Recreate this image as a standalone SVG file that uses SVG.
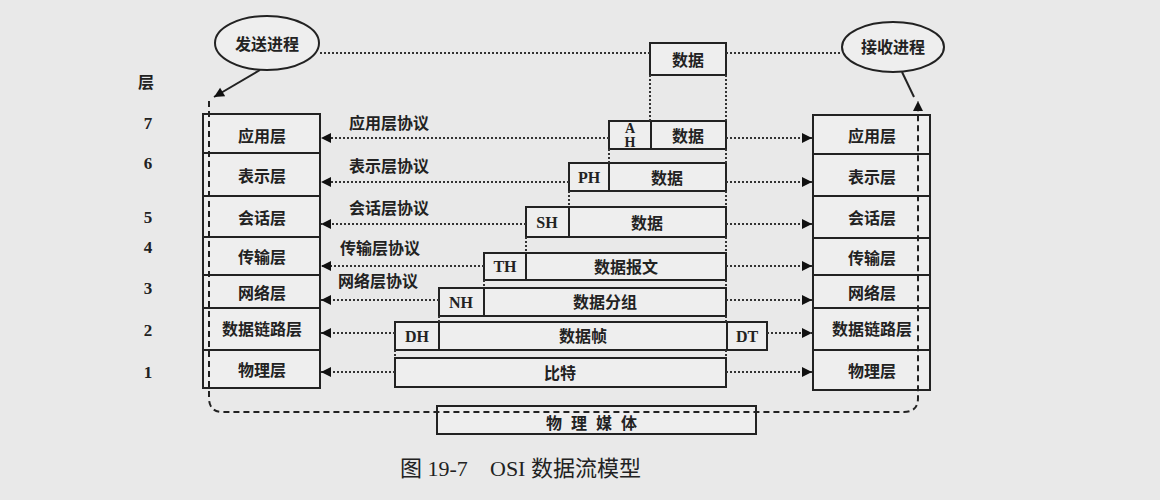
<svg xmlns="http://www.w3.org/2000/svg" width="1160" height="500" viewBox="0 0 1160 500">
<style>
.bg{fill:#e9e9e9}
.box{fill:#eeeeee;stroke:#222;stroke-width:2}
.cn{font-family:"Noto Sans CJK SC","Noto Sans",sans-serif;font-size:16px;font-weight:700;fill:#222;text-anchor:middle;dominant-baseline:central}
.hd{font-family:"Liberation Serif",serif;font-size:16px;font-weight:700;fill:#222;text-anchor:middle;dominant-baseline:central}
.num{font-family:"Liberation Serif",serif;font-size:17px;font-weight:700;fill:#222;text-anchor:middle;dominant-baseline:central}
.dot{stroke:#333;stroke-width:2;stroke-dasharray:2,2;fill:none}
.dash{stroke:#222;stroke-width:2;stroke-dasharray:6,4;fill:none}
.solid{stroke:#222;stroke-width:2;fill:none}
.cap{font-family:"Liberation Serif","Noto Sans CJK SC",serif;font-size:22px;fill:#222;dominant-baseline:central}
</style>
<defs>
<marker id="ah" viewBox="0 0 10 10" refX="10" refY="5" markerWidth="12" markerHeight="10" markerUnits="userSpaceOnUse" orient="auto">
<path d="M0,0 L10,5 L0,10 z" fill="#111"/>
</marker>
</defs>
<rect class="bg" x="0" y="0" width="1160" height="500"/>

<g id="layer-numbers">
<text class="cn" x="146" y="81">层</text>
<text class="num" x="148" y="123">7</text>
<text class="num" x="148" y="163">6</text>
<text class="num" x="148" y="217">5</text>
<text class="num" x="148" y="247">4</text>
<text class="num" x="148" y="288">3</text>
<text class="num" x="148" y="330">2</text>
<text class="num" x="148" y="372">1</text>
</g>

<g id="sender">
<ellipse class="box" cx="267" cy="43" rx="52" ry="27"/>
<text class="cn" x="267" y="43">发送进程</text>
</g>
<g id="receiver">
<ellipse class="box" cx="893" cy="47" rx="51" ry="25"/>
<text class="cn" x="893" y="46">接收进程</text>
</g>

<g id="left-stack">
<rect class="box" x="203" y="114" width="117" height="39"/>
<rect class="box" x="203" y="153" width="117" height="43"/>
<rect class="box" x="203" y="196" width="117" height="41"/>
<rect class="box" x="203" y="237" width="117" height="38"/>
<rect class="box" x="203" y="275" width="117" height="33"/>
<rect class="box" x="203" y="308" width="117" height="42"/>
<rect class="box" x="203" y="350" width="117" height="38"/>
<text class="cn" x="262" y="135">应用层</text>
<text class="cn" x="262" y="175">表示层</text>
<text class="cn" x="262" y="217">会话层</text>
<text class="cn" x="262" y="256">传输层</text>
<text class="cn" x="262" y="292">网络层</text>
<text class="cn" x="262" y="328">数据链路层</text>
<text class="cn" x="262" y="369">物理层</text>
</g>

<g id="right-stack">
<rect class="box" x="813" y="115" width="117" height="39"/>
<rect class="box" x="813" y="154" width="117" height="42"/>
<rect class="box" x="813" y="196" width="117" height="42"/>
<rect class="box" x="813" y="238" width="117" height="37"/>
<rect class="box" x="813" y="275" width="117" height="33"/>
<rect class="box" x="813" y="308" width="117" height="42"/>
<rect class="box" x="813" y="350" width="117" height="40"/>
<text class="cn" x="872" y="135">应用层</text>
<text class="cn" x="872" y="176">表示层</text>
<text class="cn" x="872" y="217">会话层</text>
<text class="cn" x="872" y="257">传输层</text>
<text class="cn" x="872" y="292">网络层</text>
<text class="cn" x="872" y="328">数据链路层</text>
<text class="cn" x="872" y="370">物理层</text>
</g>

<g id="data-top">
<rect class="box" x="650" y="43" width="76" height="32"/>
<text class="cn" x="688" y="59">数据</text>
</g>
<g id="pdu-7">
<rect class="box" x="609" y="121" width="117" height="28"/>
<line class="solid" x1="651" y1="121" x2="651" y2="149"/>
<text class="hd" x="630" y="128" style="font-size:14px">A</text>
<text class="hd" x="630" y="142" style="font-size:14px">H</text>
<text class="cn" x="688" y="135">数据</text>
</g>
<g id="pdu-6">
<rect class="box" x="569" y="163" width="157" height="28"/>
<line class="solid" x1="609" y1="163" x2="609" y2="191"/>
<text class="hd" x="589" y="177">PH</text>
<text class="cn" x="667" y="177">数据</text>
</g>
<g id="pdu-5">
<rect class="box" x="526" y="207" width="200" height="30"/>
<line class="solid" x1="569" y1="207" x2="569" y2="237"/>
<text class="hd" x="547" y="222">SH</text>
<text class="cn" x="647" y="222">数据</text>
</g>
<g id="pdu-4">
<rect class="box" x="484" y="253" width="242" height="27"/>
<line class="solid" x1="526" y1="253" x2="526" y2="280"/>
<text class="hd" x="505" y="266">TH</text>
<text class="cn" x="626" y="266">数据报文</text>
</g>
<g id="pdu-3">
<rect class="box" x="439" y="288" width="287" height="28"/>
<line class="solid" x1="484" y1="288" x2="484" y2="316"/>
<text class="hd" x="461" y="302">NH</text>
<text class="cn" x="605" y="301">数据分组</text>
</g>
<g id="pdu-2">
<rect class="box" x="395" y="322" width="372" height="28"/>
<line class="solid" x1="439" y1="322" x2="439" y2="350"/>
<line class="solid" x1="727" y1="322" x2="727" y2="350"/>
<text class="hd" x="417" y="336">DH</text>
<text class="cn" x="583" y="335">数据帧</text>
<text class="hd" x="747" y="336">DT</text>
</g>
<g id="pdu-1">
<rect class="box" x="395" y="358" width="331" height="29"/>
<text class="cn" x="560" y="372">比特</text>
</g>
<g id="medium">
<rect class="box" x="437" y="406" width="319" height="28"/>
<text class="cn" x="596" y="422" style="letter-spacing:9px">物理媒体</text>
</g>

<g id="protocol-labels">
<text class="cn" x="389" y="122">应用层协议</text>
<text class="cn" x="389" y="165">表示层协议</text>
<text class="cn" x="389" y="207">会话层协议</text>
<text class="cn" x="380" y="247">传输层协议</text>
<text class="cn" x="378" y="280">网络层协议</text>
</g>

<g id="connectors">
<line class="dot" x1="320" y1="53" x2="650" y2="53"/>
<line class="dot" x1="726" y1="53" x2="842" y2="53"/>
<line class="dot" x1="650" y1="75" x2="650" y2="121"/>
<line class="dot" x1="726" y1="75" x2="726" y2="121"/>
<line class="dot" x1="609" y1="149" x2="609" y2="163"/>
<line class="dot" x1="726" y1="149" x2="726" y2="163"/>
<line class="dot" x1="569" y1="191" x2="569" y2="207"/>
<line class="dot" x1="726" y1="191" x2="726" y2="207"/>
<line class="dot" x1="526" y1="237" x2="526" y2="253"/>
<line class="dot" x1="726" y1="237" x2="726" y2="253"/>
<line class="dot" x1="484" y1="280" x2="484" y2="288"/>
<line class="dot" x1="726" y1="280" x2="726" y2="288"/>
<line class="dot" x1="439" y1="316" x2="439" y2="322"/>
<line class="dot" x1="726" y1="316" x2="726" y2="322"/>
<line class="dot" x1="395" y1="350" x2="395" y2="358"/>
<line class="dot" x1="726" y1="350" x2="726" y2="358"/>

<line class="dot" x1="609" y1="138" x2="321" y2="138" marker-end="url(#ah)"/>
<line class="dot" x1="569" y1="182" x2="321" y2="182" marker-end="url(#ah)"/>
<line class="dot" x1="526" y1="224" x2="321" y2="224" marker-end="url(#ah)"/>
<line class="dot" x1="484" y1="266" x2="321" y2="266" marker-end="url(#ah)"/>
<line class="dot" x1="439" y1="300" x2="321" y2="300" marker-end="url(#ah)"/>
<line class="dot" x1="395" y1="333" x2="321" y2="333" marker-end="url(#ah)"/>
<line class="dot" x1="395" y1="372" x2="321" y2="372" marker-end="url(#ah)"/>

<line class="dot" x1="726" y1="138" x2="812" y2="138" marker-end="url(#ah)"/>
<line class="dot" x1="726" y1="182" x2="812" y2="182" marker-end="url(#ah)"/>
<line class="dot" x1="726" y1="224" x2="812" y2="224" marker-end="url(#ah)"/>
<line class="dot" x1="726" y1="266" x2="812" y2="266" marker-end="url(#ah)"/>
<line class="dot" x1="726" y1="300" x2="812" y2="300" marker-end="url(#ah)"/>
<line class="dot" x1="767" y1="333" x2="812" y2="333" marker-end="url(#ah)"/>
<line class="dot" x1="726" y1="372" x2="812" y2="372" marker-end="url(#ah)"/>

<line class="solid" x1="260" y1="70" x2="214" y2="97" marker-end="url(#ah)"/>
<path class="dash" d="M209,101 L209,398 Q209,412 223,412 L904,412 Q918,412 918,398 L918,101" marker-end="url(#ah)"/>
<line class="solid" x1="902" y1="72" x2="914" y2="97"/>
</g>

<g id="caption">
<text class="cap" x="400" y="468">图 19-7</text>
<text class="cap" x="490" y="468">OSI 数据流模型</text>
</g>
</svg>
